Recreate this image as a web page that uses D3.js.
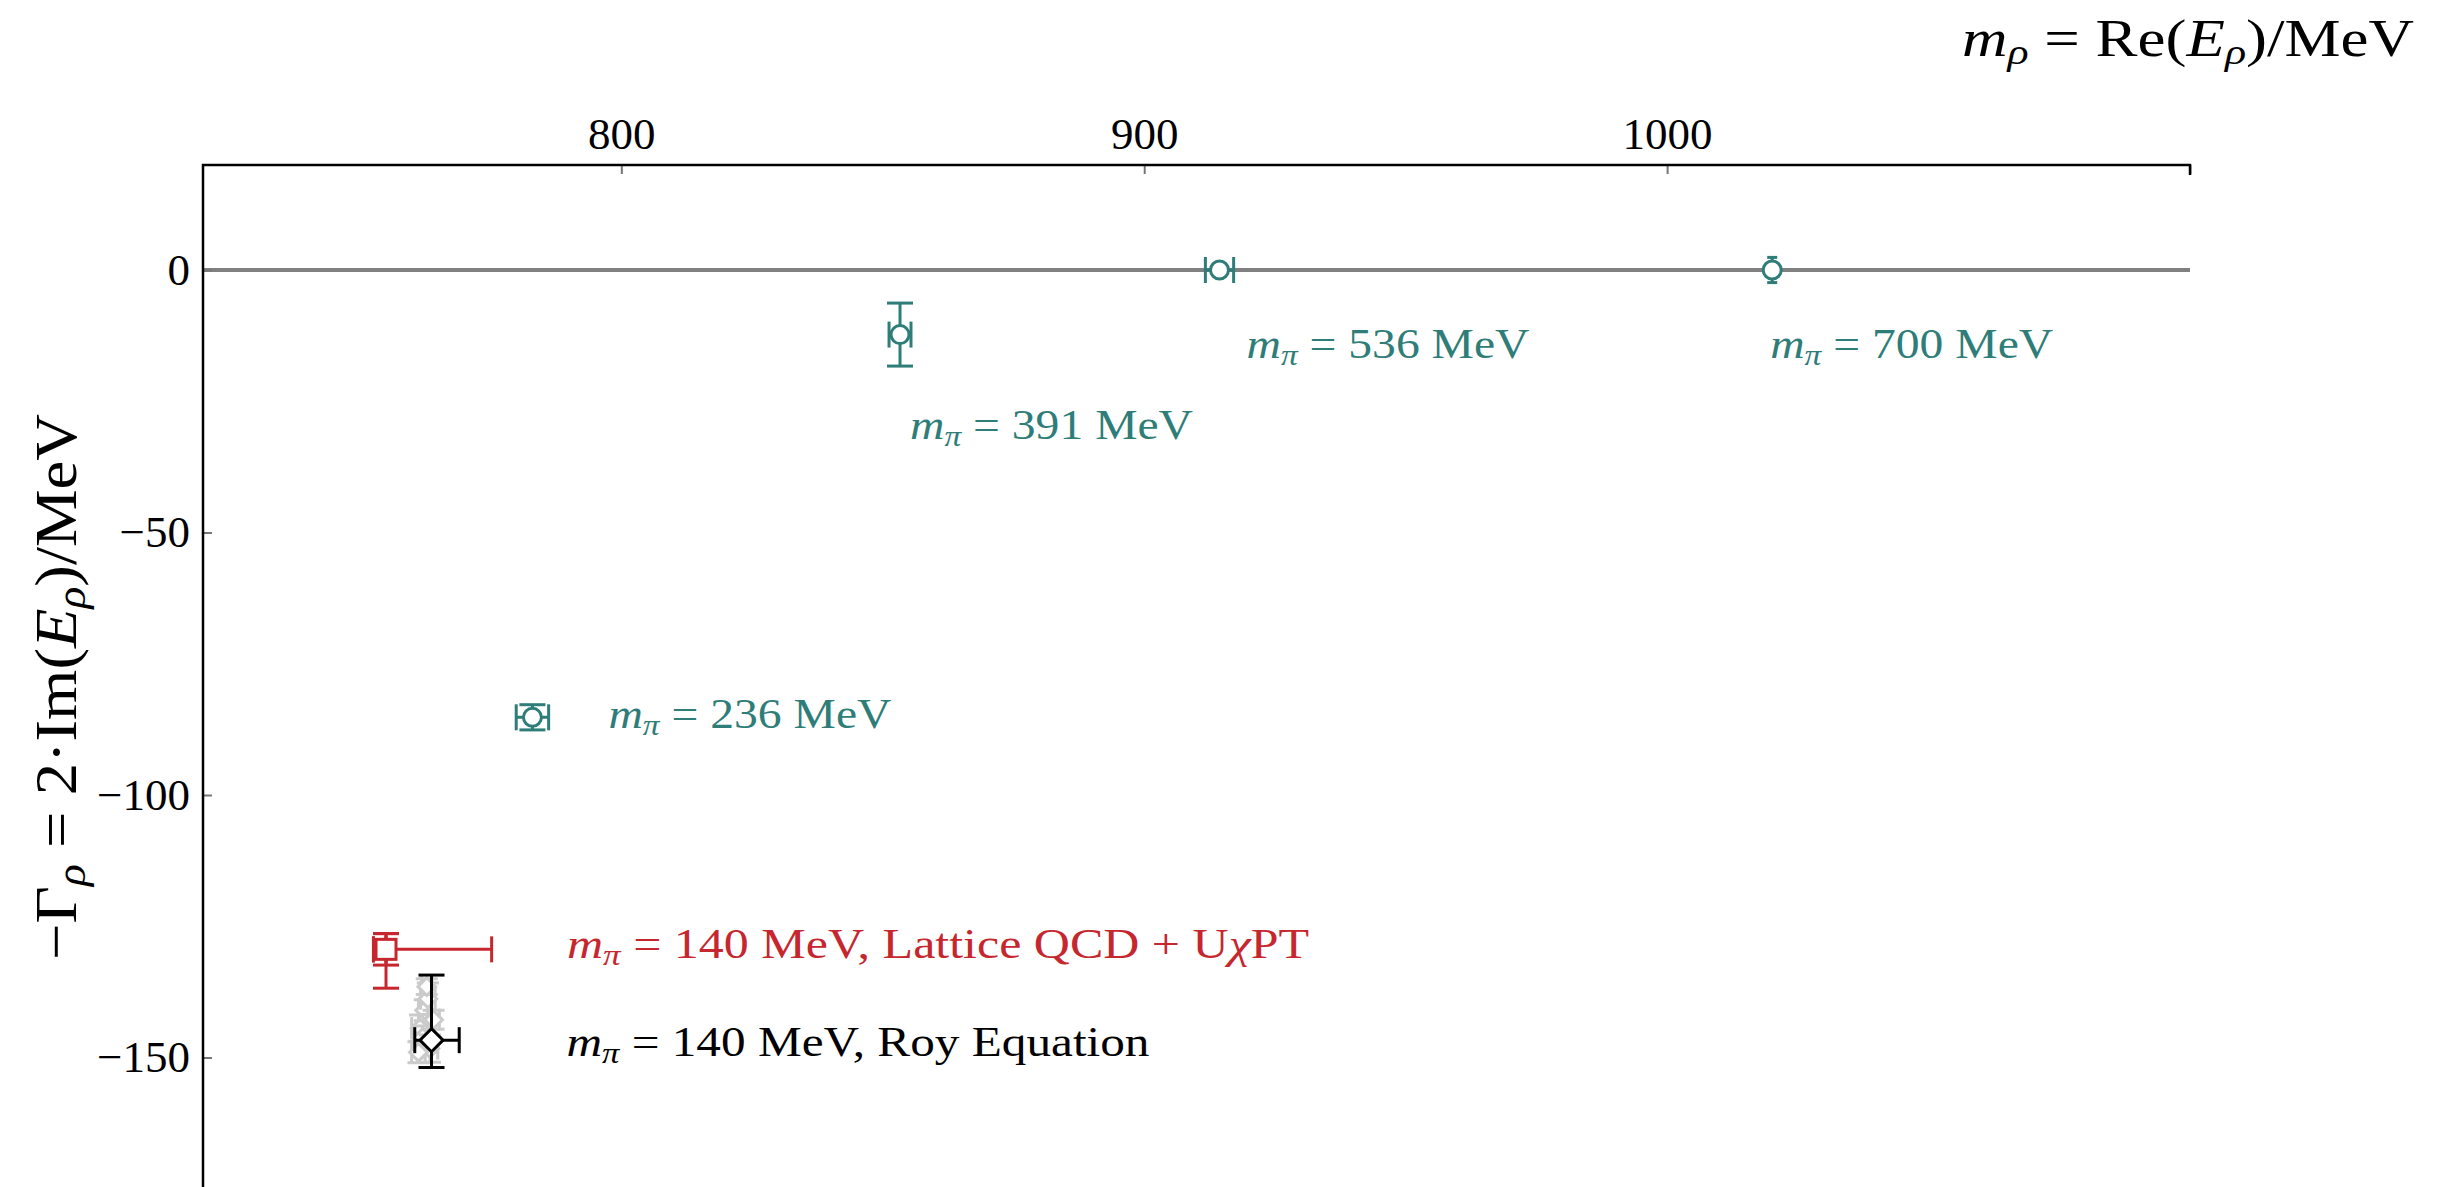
<!DOCTYPE html>
<html>
<head>
<meta charset="utf-8">
<script src="https://cdn.jsdelivr.net/npm/d3@7"></script>
<style>
  html, body { margin: 0; padding: 0; background: #fff; }
  svg { display: block; }
  text { font-family: "Liberation Serif", "DejaVu Serif", serif; }
</style>
</head>
<body>
<svg id="chart" width="2449" height="1187"></svg>
<script>
// rho-meson pole positions at unphysical pion masses (lattice), in MeV
const pionMasses = [391, 536, 700, 236];
const poleRe     = [853.3, 914.4, 1020.1, 783.0];
const poleReErr  = [2.1, 2.7, 0, 3.1];
const poleIm     = [-12.3, 0, 0, -85.2];
const poleImErr  = [6.0, 0, 2.4, 2.4];

// physical point: Lattice QCD + UχPT extrapolation
const latticeRe      = 755.0;
const latticeReErr   = [2.4, 20.2];   // [minus, plus]
const latticeIm      = -129.4;
const latticeImStat  = [3.0, 3.0];
const latticeImTotal = [7.4, 3.0];

// physical point: Roy equation
const royRe    = 763.7;
const royReErr = [3.2, 5.3];
const royIm    = -146.7;
const royImErr = [5.2, 12.4];

// spread of individual Roy-equation determinations (faint background)
const royCloudRe    = [761.5, 762.4, 763.0, 762.0, 764.1, 763.4, 761.2, 762.8];
const royCloudIm    = [-144.4, -141.0, -138.8, -146.2, -142.8, -148.3, -149.0, -136.5];
const royCloudReErr = [1.6, 1.2, 1.4, 1.8, 1.1, 1.5, 1.3, 1.0];
const royCloudImErr = [2.5, 2.0, 3.0, 2.2, 1.8, 2.6, 2.0, 1.5];

const xTicks = [800, 900, 1000, 1100];
const xTickLabels = ["800", "900", "1000", ""];
const yTicks = [0, -50, -100, -150];
const yTickLabels = ["0", "\u221250", "\u2212100", "\u2212150"];

// ---- layout ----
const teal = "#2e7d78", red = "#c6272e", black = "#000";
const plotLeft = 203, plotRight = 2190, plotTop = 165;

const x = d3.scaleLinear().domain([720, 1100]).range([plotLeft, plotRight]);
const y = d3.scaleLinear().domain([20, -175]).range([plotTop, plotTop + 195 * 5.25]);

const svg = d3.select("#chart");

// horizontal reference line at zero width
svg.append("line")
  .attr("x1", plotLeft).attr("x2", plotRight)
  .attr("y1", y(0)).attr("y2", y(0))
  .attr("stroke", "#808080").attr("stroke-width", 4);

// top axis
const xAxis = d3.axisTop(x).tickValues(xTicks)
  .tickFormat((d, i) => xTickLabels[i])
  .tickSizeInner(-9).tickSizeOuter(0).tickPadding(16);
const gx = svg.append("g").attr("transform", `translate(0,${plotTop})`).call(xAxis);
gx.select(".domain").remove();
gx.selectAll(".tick line").attr("stroke", "#777").attr("stroke-width", 2);
gx.selectAll(".tick text").attr("font-size", 45).attr("fill", "#000")
  .attr("font-family", "Liberation Serif, serif");

// left axis
const yAxis = d3.axisLeft(y).tickValues(yTicks)
  .tickFormat((d, i) => yTickLabels[i])
  .tickSizeInner(-9).tickSizeOuter(0).tickPadding(13);
const gy = svg.append("g").attr("transform", `translate(${plotLeft},0)`).call(yAxis);
gy.select(".domain").remove();
gy.selectAll(".tick line").attr("stroke", "#777").attr("stroke-width", 2);
gy.selectAll(".tick text").attr("font-size", 45).attr("fill", "#000")
  .attr("font-family", "Liberation Serif, serif");

// spines (left and top only)
svg.append("path")
  .attr("d", `M${plotLeft},1187 V${plotTop} H${plotRight} v10`)
  .attr("fill", "none").attr("stroke", "#000").attr("stroke-width", 2.5);

// ---- error bars ----
function errorBar(g, cx, cy, xm, xp, ym, yp, color, cap, capY) {
  const capX = capY === undefined ? cap : capY;
  const sw = 3;
  if (xm > 0 || xp > 0) {
    g.append("line").attr("x1", x(cx - xm)).attr("x2", x(cx + xp))
      .attr("y1", y(cy)).attr("y2", y(cy)).attr("stroke", color).attr("stroke-width", sw);
    [cx - xm, cx + xp].forEach(v => g.append("line")
      .attr("x1", x(v)).attr("x2", x(v))
      .attr("y1", y(cy) - cap).attr("y2", y(cy) + cap)
      .attr("stroke", color).attr("stroke-width", sw));
  }
  if (ym > 0 || yp > 0) {
    g.append("line").attr("x1", x(cx)).attr("x2", x(cx))
      .attr("y1", y(cy - ym)).attr("y2", y(cy + yp)).attr("stroke", color).attr("stroke-width", sw);
    [cy - ym, cy + yp].forEach(v => g.append("line")
      .attr("x1", x(cx) - capX).attr("x2", x(cx) + capX)
      .attr("y1", y(v)).attr("y2", y(v))
      .attr("stroke", color).attr("stroke-width", sw));
  }
}

const marks = svg.append("g");

// faint Roy-equation spread
const cloud = marks.append("g").attr("opacity", 0.5);
royCloudRe.forEach((re, i) => {
  errorBar(cloud, re, royCloudIm[i], royCloudReErr[i], royCloudReErr[i],
           royCloudImErr[i], royCloudImErr[i], "#999", 11);
  cloud.append("path")
    .attr("d", d3.symbol(d3.symbolDiamond2, 200)())
    .attr("transform", `translate(${x(re)},${y(royCloudIm[i])})`)
    .attr("fill", "#fff").attr("stroke", "#999").attr("stroke-width", 3);
});

// lattice points at heavier pion masses
const capSmall = [13, 13, 5, 13];
pionMasses.forEach((m, i) => {
  const g = marks.append("g");
  errorBar(g, poleRe[i], poleIm[i], poleReErr[i], poleReErr[i],
           poleImErr[i], poleImErr[i], teal, 13, capSmall[i]);
  g.append("circle").attr("cx", x(poleRe[i])).attr("cy", y(poleIm[i])).attr("r", 9)
    .attr("fill", "#fff").attr("stroke", teal).attr("stroke-width", 3);
});

// physical point, Lattice QCD + UχPT
{
  const g = marks.append("g");
  errorBar(g, latticeRe, latticeIm, latticeReErr[0], latticeReErr[1],
           latticeImTotal[0], latticeImTotal[1], red, 13);
  errorBar(g, latticeRe, latticeIm, latticeReErr[0], 0,
           latticeImStat[0], latticeImStat[1], red, 13);
  g.append("rect").attr("x", x(latticeRe) - 10).attr("y", y(latticeIm) - 10)
    .attr("width", 20).attr("height", 20)
    .attr("fill", "#fff").attr("stroke", red).attr("stroke-width", 3);
}

// physical point, Roy equation
{
  const g = marks.append("g");
  errorBar(g, royRe, royIm, royReErr[0], royReErr[1], royImErr[0], royImErr[1], black, 13);
  g.append("path")
    .attr("d", d3.symbol(d3.symbolDiamond2, 340)())
    .attr("transform", `translate(${x(royRe)},${y(royIm)})`)
    .attr("fill", "#fff").attr("stroke", black).attr("stroke-width", 3);
}

// ---- annotations ----
function mathLabel(px, py, parts, color, size, width) {
  const t = svg.append("text").attr("x", px).attr("y", py)
    .attr("fill", color).attr("font-size", size);
  parts.forEach(p => {
    const s = t.append("tspan").text(p.t);
    if (p.i) s.attr("font-style", "italic");
    if (p.sub) s.attr("font-size", size * 0.7).attr("baseline-shift", "-22%");
  });
  if (width) t.attr("textLength", width).attr("lengthAdjust", "spacingAndGlyphs");
  return t;
}

const mpi = [{ t: "m", i: 1 }, { t: "\u03C0", i: 1, sub: 1 }, { t: " = " }];
const labelOffsets = [[10, 104], [27, 88], [-2, 88], [76, 11]];
pionMasses.forEach((m, i) => {
  mathLabel(x(poleRe[i]) + labelOffsets[i][0], y(poleIm[i]) + labelOffsets[i][1],
            mpi.concat([{ t: `${m} MeV` }]), teal, 43, 283);
});

mathLabel(x(latticeRe) + 181, y(latticeIm) + 9,
  mpi.concat([{ t: "140 MeV,  Lattice QCD + U" }, { t: "\u03C7", i: 1 }, { t: "PT" }]),
  red, 43, 742);

mathLabel(x(royRe) + 135, y(royIm) + 16,
  mpi.concat([{ t: "140 MeV,  Roy Equation" }]), black, 43, 583);

// axis titles
mathLabel(1962, 56, [{ t: "m", i: 1 }, { t: "\u03C1", i: 1, sub: 1 }, { t: " = Re(" },
  { t: "E", i: 1 }, { t: "\u03C1", i: 1, sub: 1 }, { t: ")/MeV" }], black, 52, 452);

const yl = mathLabel(0, 0, [{ t: "\u2212\u0393" }, { t: "\u03C1", i: 1, sub: 1 },
  { t: " = 2\u00B7Im(" }, { t: "E", i: 1 }, { t: "\u03C1", i: 1, sub: 1 }, { t: ")/MeV" }],
  black, 60, 546);
yl.attr("text-anchor", "middle").attr("transform", "translate(76,687) rotate(-90)");
</script>
</body>
</html>
